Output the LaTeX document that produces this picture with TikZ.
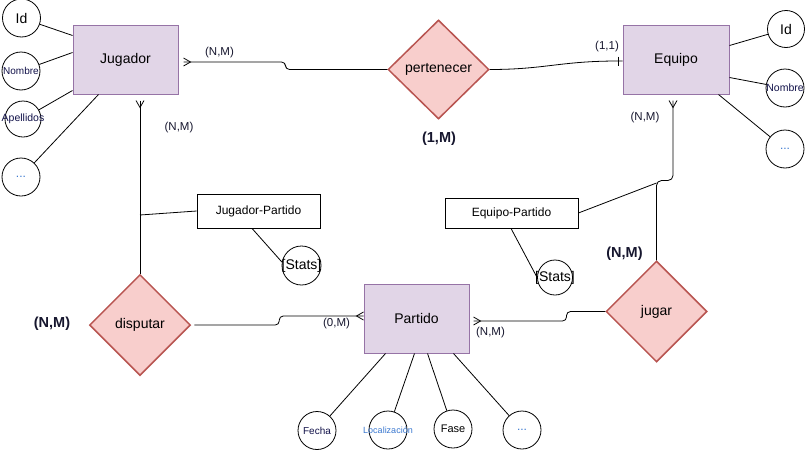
\documentclass[tikz,border=0pt]{standalone}
\usepackage{fontspec}
\setmainfont{Liberation Sans}
\usetikzlibrary{shapes.geometric}
\definecolor{entfill}{HTML}{E1D5E7}
\definecolor{entdraw}{HTML}{9673A6}
\definecolor{relfill}{HTML}{F8CECC}
\definecolor{reldraw}{HTML}{B85450}
\definecolor{lbl}{HTML}{16162E}
\definecolor{navy}{HTML}{12124A}
\definecolor{lblue}{HTML}{3A78D0}
\begin{document}
\begin{tikzpicture}[x=1pt,y=-1pt,
  entity/.style={draw=entdraw,fill=entfill,line width=1pt,minimum width=105pt,minimum height=69pt,inner sep=0pt,font=\fontsize{14}{16}\selectfont},
  rel/.style={diamond,aspect=1,draw=reldraw,fill=relfill,line width=1.5pt,minimum width=101pt,minimum height=101pt,inner sep=0pt,font=\fontsize{14}{16}\selectfont},
  attr/.style={circle,draw,fill=white,line width=0.8pt,minimum size=38pt,inner sep=0pt},
  assoc/.style={draw,fill=white,line width=0.8pt,inner sep=0pt,font=\fontsize{12}{14}\selectfont},
  card/.style={font=\fontsize{11.5}{13}\selectfont,text=lbl,inner sep=0pt},
  bcard/.style={font=\fontsize{14.5}{16}\selectfont\bfseries,text=lbl,inner sep=0pt},
  conn/.style={line width=0.8pt},
  crow/.pic={\draw[line width=0.8pt] (0,-4) -- (7,0) -- (0,4);},
  tick/.pic={\draw[line width=0.8pt] (0,-4.5) -- (0,4.5);},
]
\fill[white] (0,0) rectangle (805,450);
\useasboundingbox (0,0) rectangle (805,450);

% entities and relations
\node[entity] (jug) at (125.5,59.5) {Jugador};
\node[entity,minimum width=106pt] (eq) at (676,59.5) {Equipo};
\node[entity] (part) at (416.5,318.5) {Partido};
\node[rel,minimum height=99pt] (pert) at (438.5,69.5) {pertenecer};
\node[rel] (disp) at (140,325) {disputar};
\node[rel] (jugar) at (656.5,311.5) {jugar};
\node[assoc,minimum width=123pt,minimum height=34pt] (jp) at (258.5,211) {Jugador-Partido};
\node[assoc,minimum width=133pt,minimum height=30pt] (ep) at (511.5,213) {Equipo-Partido};

% attributes
\node[attr,label={[font=\fontsize{14}{16}\selectfont]center:Id}] (jid) at (21.5,18) {};
\node[attr,label={[font=\fontsize{10}{12}\selectfont,text=navy]center:Nombre}] (jnom) at (21,71) {};
\node[attr,minimum size=36pt,label={[font=\fontsize{10.5}{12}\selectfont,text=navy]center:Apellidos}] (jape) at (23,119) {};
\node[attr,label={[font=\fontsize{12}{14}\selectfont,text=lblue]center:...}] (jdots) at (21,177) {};

\node[attr,minimum size=37pt,label={[font=\fontsize{14}{16}\selectfont]center:Id}] (eid) at (786,29) {};
\node[attr,label={[font=\fontsize{10.5}{12}\selectfont,text=navy]center:Nombre}] (enom) at (785,88) {};
\node[attr,label={[font=\fontsize{12}{14}\selectfont,text=lblue]center:...}] (edots) at (785,149) {};

\node[attr,label={[font=\fontsize{10}{12}\selectfont,text=navy]center:Fecha}] (pfe) at (317,430.5) {};
\node[attr,label={[font=\fontsize{9}{11}\selectfont,text=lblue]center:Localización}] (ploc) at (388,430) {};
\node[attr,label={[font=\fontsize{11}{13}\selectfont]center:Fase}] (pfa) at (453,429) {};
\node[attr,label={[font=\fontsize{12}{14}\selectfont,text=lblue]center:...}] (pdots) at (522,430) {};

\node[attr,minimum size=39pt,label={[font=\fontsize{14}{16}\selectfont]center:{[Stats]}}] (s1) at (301.5,265.5) {};
\node[attr,minimum size=35pt,label={[font=\fontsize{14}{16}\selectfont]center:{[Stats]}}] (s2) at (555,277.5) {};

% attribute lines
\draw[conn] (jid) -- ([yshift=-11pt]jug.north west);
\draw[conn] (jnom) -- ([yshift=-28pt]jug.north west);
\draw[conn] (jape) -- ([yshift=4pt]jug.south west);
\draw[conn] (jdots) -- ([xshift=26pt]jug.south west);

\draw[conn] (eid) -- ([yshift=-21pt]eq.north east);
\draw[conn] (enom) -- ([yshift=17pt]eq.south east);
\draw[conn] (edots) -- ([xshift=-11pt]eq.south east);

\draw[conn] (pfe) -- ([xshift=22pt]part.south west);
\draw[conn] (ploc) -- ([xshift=51pt]part.south west);
\draw[conn] (pfa) -- ([xshift=64pt]part.south west);
\draw[conn] (pdots) -- ([xshift=90pt]part.south west);

\draw[conn] ([xshift=-6.5pt]jp.south) -- (s1.170);
\draw[conn] ([xshift=-0.5pt]ep.south) -- (s2.west);

% Jugador - pertenecer
\coordinate (c1) at ([xshift=5pt,yshift=-2.5pt]jug.east);
\pic at (c1) {crow};
\draw[conn,rounded corners=4pt] (c1) -- ++(102,0) |- (pert.west);

% pertenecer - Equipo
\coordinate (c2) at ([xshift=-4pt,yshift=-1.5pt]eq.west);
\draw[conn] (pert.east) .. controls (545,69.5) and (560,61) .. (c2) -- (eq.west |- c2);
\pic at (c2) {tick};

% Jugador - disputar
\coordinate (c3) at ([xshift=14.5pt,yshift=-6pt]jug.south);
\pic[rotate=-90] at (c3) {crow};
\draw[conn] (c3) -- (disp.north);
\coordinate (c3j) at (140,215);
\draw[conn] (jp.west) -- (c3j);

% disputar - Partido
\coordinate (c4) at ([yshift=2.5pt]part.west);
\pic[rotate=180] at (c4) {crow};
\draw[conn,rounded corners=4pt] ([xshift=3pt]disp.east) -- ++(85,0) |- (c4);

% Partido - jugar
\coordinate (c5) at ([xshift=4pt,yshift=-2.5pt]part.east);
\pic at (c5) {crow};
\draw[conn,rounded corners=4pt] (c5) -- ++(93,0) |- (jugar.west);

% Equipo - jugar
\coordinate (c6) at ([xshift=-3pt,yshift=-6pt]eq.south);
\pic[rotate=-90] at (c6) {crow};
\draw[conn,rounded corners=5pt] (c6) -- ++(0,80) -| (jugar.north);
\coordinate (c6j) at (656.5,183);
\draw[conn] (ep.east) -- (c6j);

% cardinalities
\node[card] (l1) at (219.5,53) {(N,M)};
\node[card] (l2) at (179,128) {(N,M)};
\node[bcard] (l3) at (439,139) {(1,M)};
\node[card] (l4) at (607,47) {(1,1)};
\node[card] (l5) at (645,118) {(N,M)};
\node[bcard] (l6) at (624.5,254) {(N,M)};
\node[bcard] (l7) at (52,324) {(N,M)};
\node[card] (l8) at (336.5,323.5) {(0,M)};
\node[card] (l9) at (490.5,333) {(N,M)};
\end{tikzpicture}
\end{document}
